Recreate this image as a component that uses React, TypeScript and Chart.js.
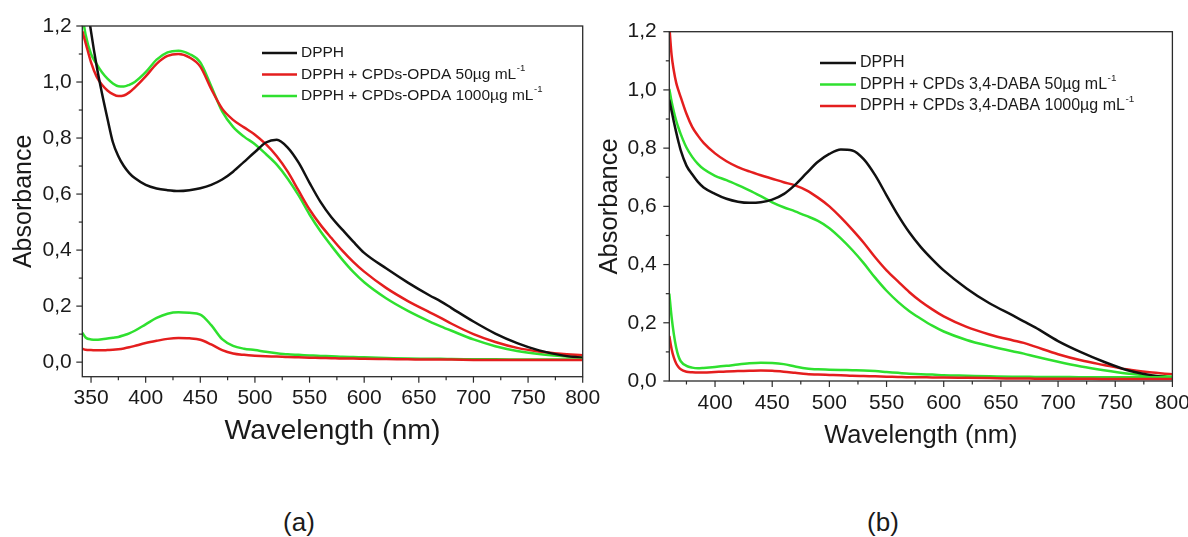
import React, { useEffect, useRef } from 'react';
import { Chart, registerables } from 'chart.js';

Chart.register(...registerables);

const FONT = "'Liberation Sans', Arial, Helvetica, sans-serif";
const TEXT = '#1a1a1a';
const BLACK = '#111111';
const RED = '#e41e1e';
const GREEN = '#2fe02f';

// ---------- Panel (a) ----------
const wavelengthsA = [342, 345, 350, 355, 360, 365, 370, 375, 380, 385, 390, 400, 410, 420, 430, 440, 450, 460, 470, 480, 490, 500, 510, 520, 530, 540, 550, 560, 570, 580, 590, 600, 620, 640, 660, 670, 680, 700, 720, 740, 760, 780, 800];
const dpphA = [1.45, 1.32, 1.18, 1.06, 0.96, 0.87, 0.785, 0.735, 0.70, 0.675, 0.657, 0.633, 0.62, 0.614, 0.611, 0.614, 0.621, 0.633, 0.652, 0.68, 0.715, 0.75, 0.784, 0.794, 0.766, 0.712, 0.64, 0.572, 0.517, 0.473, 0.43, 0.39, 0.335, 0.284, 0.238, 0.217, 0.193, 0.145, 0.102, 0.068, 0.042, 0.025, 0.015];
const opda50A = [1.182, 1.14, 1.07, 1.02, 0.99, 0.97, 0.957, 0.95, 0.952, 0.963, 0.98, 1.02, 1.065, 1.093, 1.10, 1.088, 1.055, 0.975, 0.905, 0.865, 0.838, 0.812, 0.778, 0.735, 0.68, 0.612, 0.545, 0.49, 0.443, 0.398, 0.358, 0.323, 0.265, 0.218, 0.178, 0.158, 0.137, 0.10, 0.072, 0.051, 0.038, 0.03, 0.025];
const opda1000A = [1.24, 1.17, 1.10, 1.065, 1.035, 1.012, 0.995, 0.985, 0.984, 0.99, 1.0, 1.035, 1.08, 1.106, 1.112, 1.1, 1.07, 0.985, 0.895, 0.84, 0.805, 0.778, 0.743, 0.705, 0.655, 0.595, 0.527, 0.467, 0.415, 0.366, 0.322, 0.285, 0.228, 0.183, 0.145, 0.128, 0.112, 0.081, 0.057, 0.04, 0.029, 0.022, 0.017];
const cpds1000A = [0.105, 0.088, 0.081, 0.08, 0.082, 0.084, 0.087, 0.09, 0.096, 0.103, 0.112, 0.135, 0.158, 0.173, 0.178, 0.176, 0.17, 0.132, 0.082, 0.058, 0.048, 0.043, 0.037, 0.032, 0.028, 0.026, 0.024, 0.022, 0.021, 0.019, 0.018, 0.017, 0.015, 0.013, 0.012, 0.012, 0.011, 0.01, 0.01, 0.0095, 0.009, 0.009, 0.009];
const cpds50A = [0.048, 0.044, 0.043, 0.042, 0.042, 0.043, 0.044, 0.046, 0.049, 0.053, 0.058, 0.068, 0.076, 0.083, 0.086, 0.085, 0.08, 0.063, 0.043, 0.031, 0.026, 0.023, 0.021, 0.02, 0.018, 0.017, 0.016, 0.015, 0.014, 0.013, 0.013, 0.012, 0.011, 0.01, 0.009, 0.009, 0.009, 0.008, 0.008, 0.008, 0.008, 0.008, 0.008];
const labelsA = ['DPPH', 'DPPH + CPDs-OPDA 50µg mL⁻¹', 'DPPH + CPDs-OPDA 1000µg mL⁻¹'];
const xTicksA = [350, 400, 450, 500, 550, 600, 650, 700, 750, 800];
const xMinorA = [375, 425, 475, 525, 575, 625, 675, 725, 775];

// ---------- Panel (b) ----------
const wavelengthsB = [360, 362, 364, 366, 368, 370, 375, 380, 385, 390, 400, 410, 420, 430, 440, 450, 460, 470, 480, 490, 500, 510, 520, 530, 540, 550, 560, 570, 580, 590, 600, 620, 640, 660, 670, 680, 700, 720, 740, 760, 780, 800];
const dpphB = [0.966, 0.928, 0.89, 0.855, 0.822, 0.792, 0.74, 0.71, 0.684, 0.665, 0.643, 0.626, 0.616, 0.612, 0.614, 0.623, 0.642, 0.674, 0.714, 0.753, 0.78, 0.795, 0.792, 0.762, 0.707, 0.638, 0.57, 0.51, 0.46, 0.418, 0.38, 0.318, 0.267, 0.226, 0.205, 0.184, 0.137, 0.099, 0.066, 0.038, 0.021, 0.011];
const daba50B = [1.003, 0.96, 0.925, 0.895, 0.87, 0.848, 0.802, 0.77, 0.746, 0.728, 0.705, 0.69, 0.673, 0.655, 0.635, 0.614, 0.597, 0.583, 0.567, 0.55, 0.525, 0.49, 0.45, 0.405, 0.355, 0.31, 0.272, 0.24, 0.214, 0.19, 0.17, 0.141, 0.12, 0.102, 0.094, 0.084, 0.066, 0.05, 0.037, 0.026, 0.019, 0.015];
const daba1000B = [1.22, 1.12, 1.065, 1.025, 0.998, 0.975, 0.918, 0.873, 0.843, 0.818, 0.782, 0.755, 0.735, 0.72, 0.707, 0.695, 0.683, 0.672, 0.655, 0.63, 0.6, 0.562, 0.52, 0.475, 0.425, 0.38, 0.342, 0.305, 0.273, 0.246, 0.222, 0.186, 0.16, 0.14, 0.131, 0.118, 0.092, 0.071, 0.055, 0.04, 0.03, 0.023];
const cpds50B = [0.30, 0.22, 0.16, 0.115, 0.085, 0.068, 0.052, 0.046, 0.044, 0.045, 0.048, 0.052, 0.057, 0.061, 0.063, 0.062, 0.058, 0.05, 0.043, 0.04, 0.039, 0.038, 0.037, 0.036, 0.034, 0.031, 0.028, 0.025, 0.023, 0.022, 0.02, 0.018, 0.016, 0.015, 0.015, 0.014, 0.014, 0.013, 0.013, 0.013, 0.013, 0.013];
const cpds1000B = [0.155, 0.11, 0.08, 0.06, 0.048, 0.04, 0.032, 0.03, 0.029, 0.029, 0.031, 0.033, 0.034, 0.035, 0.036, 0.035, 0.032, 0.028, 0.024, 0.022, 0.021, 0.02, 0.018, 0.017, 0.016, 0.015, 0.014, 0.013, 0.013, 0.012, 0.012, 0.011, 0.01, 0.009, 0.009, 0.008, 0.008, 0.008, 0.007, 0.007, 0.007, 0.007];
const labelsB = ['DPPH', 'DPPH + CPDs 3,4-DABA 50µg mL⁻¹', 'DPPH + CPDs 3,4-DABA 1000µg mL⁻¹'];
const xTicksB = [400, 450, 500, 550, 600, 650, 700, 750, 800];
const xMinorB = [375, 425, 475, 525, 575, 625, 675, 725, 775];

// ---------- shared y ticks ----------
const yTicks = [0, 0.2, 0.4, 0.6, 0.8, 1.0, 1.2];
const yMinor = [0.1, 0.3, 0.5, 0.7, 0.9, 1.1];

const framePlugin = {
  id: 'frameTicks',
  afterDatasetsDraw(chart: any, _args: any, opts: any) {
    const { ctx, chartArea: a, scales } = chart;
    const xs = scales.x;
    const ys = scales.y;
    ctx.save();
    ctx.strokeStyle = '#2a2a2a';
    ctx.lineWidth = 1.3;
    ctx.strokeRect(a.left, a.top, a.right - a.left, a.bottom - a.top);
    ctx.lineWidth = 1.2;
    const drawX = (vals: number[], len: number) => {
      vals.forEach((v) => {
        const p = xs.getPixelForValue(v);
        if (p < a.left - 0.5 || p > a.right + 0.5) return;
        ctx.beginPath();
        ctx.moveTo(p, a.bottom);
        ctx.lineTo(p, a.bottom + len);
        ctx.stroke();
      });
    };
    const drawY = (vals: number[], len: number) => {
      vals.forEach((v) => {
        const p = ys.getPixelForValue(v);
        if (p < a.top - 0.5 || p > a.bottom + 0.5) return;
        ctx.beginPath();
        ctx.moveTo(a.left, p);
        ctx.lineTo(a.left - len, p);
        ctx.stroke();
      });
    };
    drawX(opts.xMajor, 6);
    drawX(opts.xMinor, 3.5);
    drawY(opts.yMajor, 6);
    drawY(opts.yMinor, 3.5);
    ctx.restore();
  },
};

const legendPlugin = {
  id: 'spectraLegend',
  afterDatasetsDraw(chart: any, _args: any, opts: any) {
    const { ctx } = chart;
    const items = chart.data.datasets.filter((d: any) => d.inLegend);
    ctx.save();
    items.forEach((ds: any, i: number) => {
      const y = opts.y + i * opts.rowH;
      ctx.strokeStyle = ds.borderColor;
      ctx.lineWidth = ds.borderWidth;
      ctx.beginPath();
      ctx.moveTo(opts.x, y);
      ctx.lineTo(opts.x + opts.lineLen, y);
      ctx.stroke();
      let text: string = ds.label;
      let sup = '';
      if (text.endsWith('⁻¹')) {
        text = text.slice(0, -2);
        sup = '-1';
      }
      const tx = opts.x + opts.lineLen + opts.gap;
      ctx.font = `${opts.size}px ${FONT}`;
      ctx.fillStyle = TEXT;
      ctx.textAlign = 'left';
      ctx.textBaseline = 'middle';
      ctx.fillText(text, tx, y);
      if (sup) {
        const w = ctx.measureText(text).width;
        ctx.font = `${opts.size * 0.62}px ${FONT}`;
        ctx.fillText(sup, tx + w + 0.5, y - opts.size * 0.4);
      }
    });
    ctx.restore();
  },
};

type Series = { values: number[]; color: string; label?: string };

type PanelDef = {
  wavelengths: number[];
  series: Series[];
  xMin: number;
  xMax: number;
  yMin: number;
  yMax: number;
  xTicks: number[];
  xMinor: number[];
  left: number;
  top: number;
  right: number;
  bottom: number;
  xTickPad: number;
  yTickPad: number;
  xTitleSize: number;
  xTitlePad: number;
  yTitleSize: number;
  yTitlePad: number;
  legend: { x: number; y: number; lineLen: number; gap: number; rowH: number; size: number };
};

const CW = 620;
const CH = 470;

function makeConfig(p: PanelDef): any {
  const datasets = p.series.map((s) => ({
    label: s.label ?? '',
    inLegend: !!s.label,
    data: p.wavelengths.map((w, i) => ({ x: w, y: s.values[i] })),
    borderColor: s.color,
    backgroundColor: s.color,
    borderWidth: 2.5,
    pointRadius: 0,
    fill: false,
    cubicInterpolationMode: 'monotone',
  }));
  const fmtY = (v: any) => Number(v).toFixed(1).replace('.', ',');
  return {
    type: 'line',
    data: { datasets },
    options: {
      animation: false,
      responsive: false,
      devicePixelRatio: 1,
      layout: { padding: { left: 0, top: p.top, right: CW - p.right, bottom: 0 } },
      plugins: {
        legend: { display: false },
        tooltip: { enabled: false },
        frameTicks: { xMajor: p.xTicks, xMinor: p.xMinor, yMajor: yTicks, yMinor: yMinor },
        spectraLegend: p.legend,
      },
      scales: {
        x: {
          type: 'linear',
          min: p.xMin,
          max: p.xMax,
          grid: { display: false, drawTicks: false, tickLength: 0 },
          border: { display: false },
          afterBuildTicks: (scale: any) => {
            scale.ticks = p.xTicks.map((v) => ({ value: v }));
          },
          afterFit: (scale: any) => {
            scale.height = CH - p.bottom;
          },
          ticks: {
            padding: p.xTickPad,
            maxRotation: 0,
            autoSkip: false,
            color: TEXT,
            font: { family: FONT, size: 21 },
            callback: (v: any) => String(v),
          },
          title: {
            display: true,
            text: 'Wavelength (nm)',
            color: TEXT,
            font: { family: FONT, size: p.xTitleSize },
            padding: { top: 0, bottom: p.xTitlePad },
          },
        },
        y: {
          type: 'linear',
          min: p.yMin,
          max: p.yMax,
          grid: { display: false, drawTicks: false, tickLength: 0 },
          border: { display: false },
          afterBuildTicks: (scale: any) => {
            scale.ticks = yTicks.map((v) => ({ value: v }));
          },
          afterFit: (scale: any) => {
            scale.width = p.left;
          },
          ticks: {
            padding: p.yTickPad,
            autoSkip: false,
            color: TEXT,
            font: { family: FONT, size: 21 },
            callback: fmtY,
          },
          title: {
            display: true,
            text: 'Absorbance',
            color: TEXT,
            font: { family: FONT, size: p.yTitleSize },
            padding: { top: p.yTitlePad, bottom: 0 },
          },
        },
      },
    },
    plugins: [framePlugin, legendPlugin],
  };
}

const panelA: PanelDef = {
  wavelengths: wavelengthsA,
  series: [
    { values: cpds50A, color: RED },
    { values: cpds1000A, color: GREEN },
    { values: dpphA, color: BLACK, label: labelsA[0] },
    { values: opda50A, color: RED, label: labelsA[1] },
    { values: opda1000A, color: GREEN, label: labelsA[2] },
  ],
  xMin: 342,
  xMax: 800,
  yMin: -0.052,
  yMax: 1.2,
  xTicks: xTicksA,
  xMinor: xMinorA,
  left: 82.3,
  top: 26,
  right: 582.7,
  bottom: 376.7,
  xTickPad: 9,
  yTickPad: 10.6,
  xTitleSize: 28.5,
  xTitlePad: 22,
  yTitleSize: 25,
  yTitlePad: 9,
  legend: { x: 262, y: 53, lineLen: 35, gap: 4, rowH: 21.5, size: 15.5 },
};

const panelB: PanelDef = {
  wavelengths: wavelengthsB,
  series: [
    { values: cpds1000B, color: RED },
    { values: cpds50B, color: GREEN },
    { values: dpphB, color: BLACK, label: labelsB[0] },
    { values: daba50B, color: GREEN, label: labelsB[1] },
    { values: daba1000B, color: RED, label: labelsB[2] },
  ],
  xMin: 360,
  xMax: 800,
  yMin: 0,
  yMax: 1.2,
  xTicks: xTicksB,
  xMinor: xMinorB,
  left: 75.3,
  top: 31.7,
  right: 578.4,
  bottom: 381,
  xTickPad: 9.7,
  yTickPad: 12.6,
  xTitleSize: 25.5,
  xTitlePad: 18.7,
  yTitleSize: 25.5,
  yTitlePad: 0.7,
  legend: { x: 226, y: 63, lineLen: 36, gap: 4, rowH: 21.5, size: 16 },
};

function Panel({ def, left }: { def: PanelDef; left: number }) {
  const ref = useRef<HTMLCanvasElement | null>(null);
  useEffect(() => {
    if (!ref.current) return;
    const chart = new Chart(ref.current, makeConfig(def));
    return () => chart.destroy();
  }, [def]);
  return (
    <canvas
      ref={ref}
      width={CW}
      height={CH}
      style={{ position: 'absolute', left, top: 0, width: CW, height: CH }}
    />
  );
}

const captionStyle: React.CSSProperties = {
  position: 'absolute',
  top: 507,
  width: 100,
  height: 30,
  lineHeight: '30px',
  textAlign: 'center',
  fontFamily: FONT,
  fontSize: 26,
  color: TEXT,
};

export default function App() {
  return (
    <div
      style={{
        position: 'absolute',
        left: 0,
        top: 0,
        width: 1188,
        height: 537,
        overflow: 'hidden',
        background: '#ffffff',
      }}
    >
      <Panel def={panelA} left={0} />
      <Panel def={panelB} left={594} />
      <div style={{ ...captionStyle, left: 299 - 50 }}>(a)</div>
      <div style={{ ...captionStyle, left: 883 - 50 }}>(b)</div>
    </div>
  );
}
